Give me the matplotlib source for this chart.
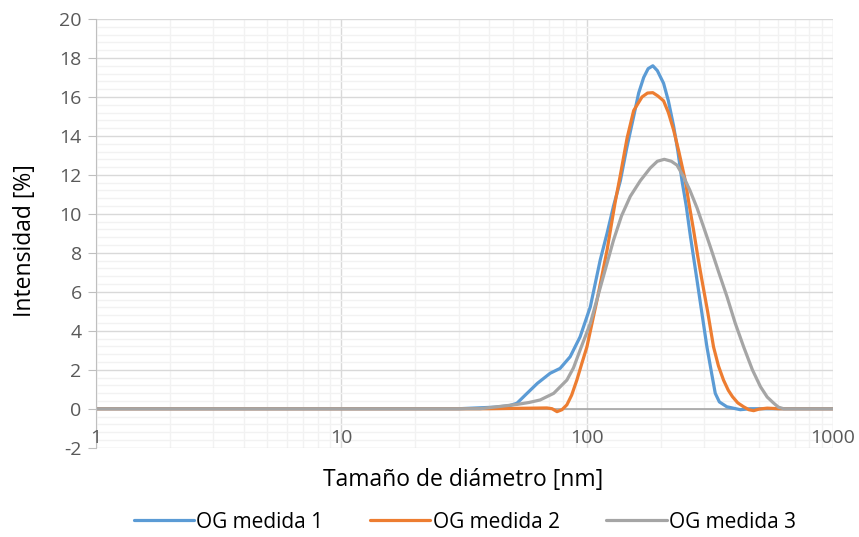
import matplotlib.pyplot as plt
from matplotlib.ticker import FixedLocator, NullFormatter, MultipleLocator, LogLocator

plt.rcParams['font.family'] = ['Open Sans', 'DejaVu Sans']
plt.rcParams['axes.unicode_minus'] = False

# tamaño de diámetro [nm] / intensidad [%]
x1 = [1, 10, 30, 42, 48, 51.8, 56, 62.7, 70.7, 77.6, 85.3, 93.6, 103, 113, 120.5,
      128, 136.5, 145, 154.6, 162, 169.8, 177, 185, 193, 204.6, 214, 224.8, 234,
      243, 253, 262.7, 279.8, 293, 307, 320, 332, 345, 370, 420, 460, 1000]
y1 = [0, 0, 0, 0.08, 0.15, 0.28, 0.7, 1.3, 1.82, 2.07, 2.67, 3.69, 5.23, 7.63, 9.0,
      10.4, 11.7, 13.4, 15.0, 16.2, 17.0, 17.45, 17.6, 17.35, 16.7, 15.8, 14.5, 13.2,
      11.72, 10.4, 8.9, 6.6, 4.9, 3.18, 1.9, 0.79, 0.35, 0.1, -0.05, 0, 0]

x2 = [1, 10, 40, 60, 68.6, 72, 75.4, 79, 82.7, 86.5, 90.8, 95, 99.8, 109.7, 120.5,
      130, 136.5, 145.4, 154.6, 167.2, 176, 185, 194, 204.6, 214, 224.8, 236, 250.6,
      259, 271, 282, 293, 309, 326.6, 342, 358.7, 375, 390, 410, 433, 455, 475.6,
      500, 540, 600, 1000]
y2 = [0, 0, 0, 0.03, 0.04, 0.0, -0.15, -0.05, 0.2, 0.7, 1.47, 2.3, 3.18, 5.58, 8.14,
      10.6, 12.0, 13.9, 15.3, 16.0, 16.2, 16.22, 16.05, 15.8, 15.2, 14.3, 13.2, 11.72,
      10.6, 9.16, 7.8, 6.6, 5.0, 3.18, 2.2, 1.47, 0.95, 0.62, 0.3, 0.1, -0.05, -0.1,
      -0.02, 0.03, 0, 0]

x3 = [1, 10, 36.7, 43, 51.8, 58, 64.4, 73.1, 82.7, 88, 93.6, 103, 116.3, 128, 138,
      149.8, 164.5, 180.5, 193, 206, 220, 232, 246.8, 262, 280, 300, 317, 343, 370.6,
      400, 433, 470, 507, 540, 574.5, 600, 630, 1000]
y3 = [0, 0, 0, 0.1, 0.22, 0.32, 0.45, 0.79, 1.47, 2.1, 3.01, 4.38, 6.77, 8.65, 9.9,
      10.9, 11.7, 12.35, 12.7, 12.8, 12.7, 12.5, 11.9, 11.2, 10.3, 9.2, 8.31, 7.0, 5.75,
      4.4, 3.18, 2.0, 1.13, 0.6, 0.28, 0.08, 0, 0]

labels = ['OG medida 1', 'OG medida 2', 'OG medida 3']
colors = ['#5B9BD5', '#ED7D31', '#A5A5A5']
xticks = [1, 10, 100, 1000]

fig = plt.figure(figsize=(8.59, 5.37), dpi=100)
ax = fig.add_axes([0.1112, 0.1663, 0.8585, 0.7983])

ax.set_xscale('log')
ax.set_xlim(1, 1000)
ax.set_ylim(-2, 20)

ax.xaxis.set_major_locator(FixedLocator(xticks))
ax.xaxis.set_minor_locator(LogLocator(base=10, subs=range(2, 10)))
ax.xaxis.set_major_formatter(NullFormatter())
ax.xaxis.set_minor_formatter(NullFormatter())
ax.yaxis.set_major_locator(MultipleLocator(2))
ax.yaxis.set_minor_locator(MultipleLocator(0.4))

ax.grid(which='major', color='#D9D9D9', lw=1)
ax.grid(which='minor', color='#F2F2F2', lw=1)
ax.set_axisbelow(True)

for s in ['top', 'right', 'bottom']:
    ax.spines[s].set_visible(False)
ax.spines['left'].set_color('#BFBFBF')
ax.axhline(0, color='#A6A6A6', lw=1.2, zorder=1)

ax.tick_params(axis='y', which='major', length=6, color='#BFBFBF', labelsize=14,
               labelcolor='#595959', pad=4)
ax.tick_params(axis='y', which='minor', length=0)
ax.tick_params(axis='x', which='both', length=0)

# etiquetas del eje x, justo bajo la línea de 0 como en Excel
for t in xticks:
    ax.text(t, -1.5, str(t), ha='center', va='center', fontsize=14, color='#595959')

for xs, ys, lab, c in zip([x1, x2, x3], [y1, y2, y3], labels, colors):
    ax.plot(xs, ys, color=c, lw=2.3, label=lab, solid_capstyle='round')

fig.text(0.539, 1 - 480 / 537, 'Tamaño de diámetro [nm]', ha='center', va='center',
         fontsize=16.5)
fig.text(25 / 859, 1 - 241 / 537, 'Intensidad [%]', ha='center', va='center',
         fontsize=16.5, rotation=90)

fig.legend(loc='center', bbox_to_anchor=(0.541, 1 - 522 / 537), ncol=3, frameon=False,
           fontsize=15, handlelength=2.9, handletextpad=0.1, columnspacing=2.25)

fig.savefig('out.png', dpi=100)
